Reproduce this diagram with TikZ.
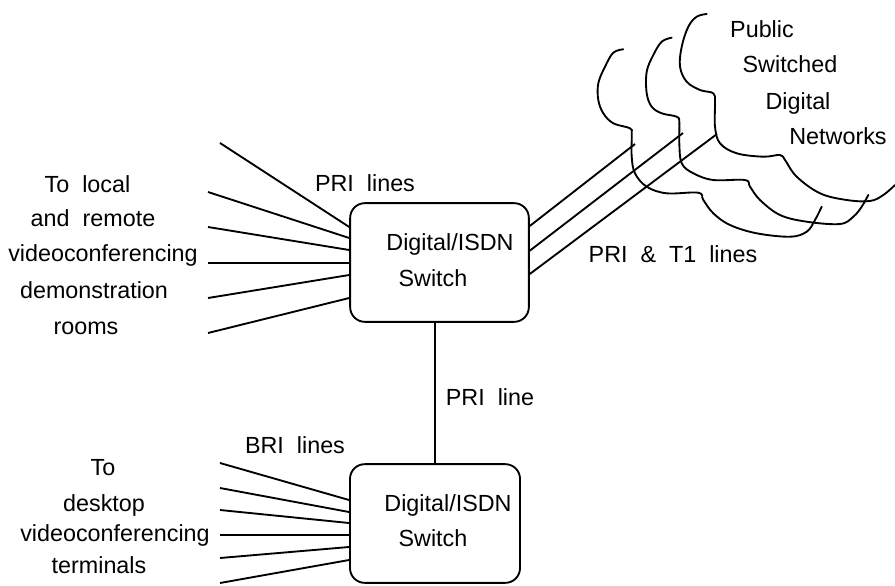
\documentclass[tikz,border=0pt]{standalone}
\usepackage{fontspec}
\setmainfont{Liberation Sans}
\usetikzlibrary{positioning}

\tikzset{
  switchbox/.style={draw,line width=1.4pt,rounded corners=11pt,minimum width=134pt,minimum height=89pt},
  wire/.style={line width=1.4pt},
  lbl/.style={font=\fontsize{17.5}{20}\selectfont,inner sep=0pt,anchor=base},
  cloudline/.style={line width=1.4pt,line join=round,line cap=round},
}

\begin{document}
\begin{tikzpicture}[x=0.75pt,y=-0.75pt]
    \useasboundingbox (0,0) rectangle (895,585);

    % Switches
    \node[switchbox] (top) at (439.5,262.5) {};
    \node[switchbox,minimum width=127.5pt] (bot) at (435,523.5) {};
    \node[lbl] (topa) at (450,250.7) {Digital/ISDN};
    \node[lbl] (topb) at (433,286.7) {Switch};
    \node[lbl] (bota) at (448,511.7) {Digital/ISDN};
    \node[lbl] (botb) at (433,546.7) {Switch};

    % PRI lines to rooms
    \foreach \i/\xa/\ya/\yb in {1/220/143/227,2/208/192/238,3/208/227/250,4/208/263/263,5/208/298/275,6/208/333/298} {
      \coordinate (pri\i) at (\xa,\ya);
      \draw[wire] (pri\i) -- (top.west |- 0,\yb);
    }
    \node[lbl] (prilbl) at (365,191.7) {PRI\ \ lines};
    \node[lbl] (room1) at (87.5,192.7) {To\ \ local};
    \node[lbl] (room2) at (93,226.7) {and\ \ remote};
    \node[lbl] (room3) at (103,261.7) {videoconferencing};
    \node[lbl] (room4) at (94,298.3) {demonstration};
    \node[lbl] (room5) at (86,334) {rooms};

    % BRI lines to desktops
    \foreach \i/\ya/\yb in {1/463/500,2/488/512,3/510/523,4/535/535,5/558/547,6/583/560} {
      \coordinate (bri\i) at (220,\ya);
      \draw[wire] (bri\i) -- (bot.west |- 0,\yb);
    }
    \node[lbl] (brilbl) at (295,453) {BRI\ \ lines};
    \node[lbl] (desk1) at (103,475) {To};
    \node[lbl] (desk2) at (104,511.7) {desktop};
    \node[lbl] (desk3) at (115,541.7) {videoconferencing};
    \node[lbl] (desk4) at (99,573) {terminals};

    % PRI line between switches
    \draw[wire] (bot.north) -- (bot.north |- top.south);
    \node[lbl] (linklbl) at (490,405) {PRI\ \ line};

    % Clouds
    \draw[cloudline] plot[smooth,tension=0.6] coordinates {(623.3,49.3) (613.3,52.7) (605,66.7) (598.3,83.3) (598.3,100) (603.3,113.3) (613.3,123.3) (630,128.3) (631.7,134) (631.7,156.7) (635,173.3) (646.7,186.7) (666.7,193.3) (698.3,192.7) (703.3,200) (713.3,213.3) (730,225) (756.7,233.3) (790,236.7) (806.7,231.7) (815,220) (821.7,206.7)};
    \draw[cloudline] plot[smooth,tension=0.6] coordinates {(671.7,37.7) (661.7,41.7) (653.3,55) (646.7,71.7) (646.7,93.3) (651.7,106.7) (661.7,113.3) (676.7,116.7) (679.3,122) (679.3,143.3) (681.7,163.3) (693.3,173.3) (713.3,180) (745,180) (750,186.7) (760,200) (780,215) (806.7,221.7) (840,224) (853.3,216.7) (861.7,206.7) (868.3,195)};
    \draw[cloudline] plot[smooth,tension=0.6] coordinates {(706.7,14) (696.7,16.7) (688.3,26.7) (681.7,46.7) (680,66.7) (686.7,81.7) (700,90) (713.3,93.3) (715,102) (715,126.7) (720,143.3) (736.7,153.3) (763.3,156.7) (780,155) (785,160) (796.7,176.7) (820,193.3) (846.7,200) (870,201) (883.3,195) (895,185)};
    \node[lbl] (net1) at (762,37.3) {Public};
    \node[lbl] (net2) at (790,72.7) {Switched};
    \node[lbl] (net3) at (798,109.3) {Digital};
    \node[lbl] (net4) at (838,144) {Networks};

    % PRI & T1 lines to networks
    \foreach \i/\xb/\ya/\yb in {1/635/226/144,2/683/250.7/133,3/717/274/134} {
      \coordinate (net\i end) at (\xb,\yb);
      \draw[wire] (top.east |- 0,\ya) -- (net\i end);
    }
    \node[lbl] (t1lbl) at (673,262.3) {PRI\ \ \&\ \ T1\ \ lines};
\end{tikzpicture}
\end{document}
